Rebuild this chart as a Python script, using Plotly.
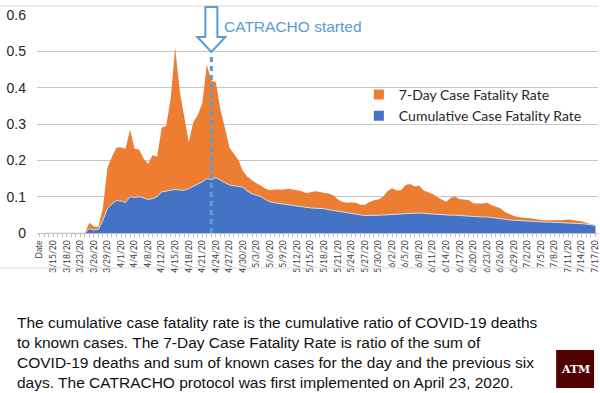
import pandas as pd
import plotly.graph_objects as go

# ---------------- data ----------------
early_dates = ["Date", "3/13/20", "3/14/20", "3/15/20", "3/16/20", "3/17/20", "3/18/20",
               "3/20/20", "3/22/20", "3/23/20", "3/24/20", "3/25/20", "3/26/20", "3/27/20",
               "3/28/20", "3/29/20", "3/30/20", "3/31/20", "4/1/20", "4/2/20", "4/3/20",
               "4/4/20", "4/6/20", "4/7/20", "4/8/20", "4/9/20", "4/10/20"]
later_dates = [f"{d.month}/{d.day}/20" for d in pd.date_range("2020-04-12", "2020-07-17")]
dates = early_dates + later_dates

seven_day_cfr = [None, 0, 0, 0, 0, 0, 0, 0, 0, 0,
                 0, 0.028, 0.018, 0.017, 0.07, 0.18, 0.21, 0.235, 0.235, 0.232,
                 0.285, 0.232, 0.23, 0.205, 0.19, 0.215, 0.21, 0.29, 0.295, 0.37,
                 0.51, 0.39, 0.32, 0.25, 0.305, 0.325, 0.357, 0.463, 0.42, 0.415,
                 0.34, 0.29, 0.235, 0.218, 0.2, 0.17, 0.155, 0.145, 0.137, 0.13,
                 0.122, 0.118, 0.12, 0.12, 0.12, 0.122, 0.12, 0.118, 0.115, 0.11,
                 0.112, 0.115, 0.113, 0.11, 0.109, 0.104, 0.092, 0.086, 0.083, 0.084,
                 0.083, 0.078, 0.078, 0.085, 0.09, 0.092, 0.1, 0.115, 0.123, 0.117,
                 0.118, 0.132, 0.135, 0.128, 0.13, 0.117, 0.112, 0.107, 0.099, 0.092,
                 0.086, 0.097, 0.1, 0.093, 0.092, 0.09, 0.082, 0.081, 0.081, 0.083,
                 0.077, 0.072, 0.068, 0.058, 0.052, 0.047, 0.044, 0.042, 0.041, 0.04,
                 0.038, 0.036, 0.035, 0.035, 0.035, 0.035, 0.036, 0.037, 0.036, 0.034,
                 0.032, 0.028, 0.024, 0.022]

cumulative_cfr = [None, 0, 0, 0, 0, 0, 0, 0, 0, 0,
                  0, 0.012, 0.008, 0.01, 0.035, 0.068, 0.08, 0.089, 0.088, 0.084,
                  0.1, 0.098, 0.1, 0.097, 0.092, 0.095, 0.1, 0.113, 0.115, 0.117,
                  0.12, 0.118, 0.118, 0.122, 0.128, 0.134, 0.141, 0.15, 0.147, 0.152,
                  0.145, 0.137, 0.132, 0.13, 0.128, 0.126, 0.115, 0.108, 0.104, 0.1,
                  0.092, 0.086, 0.083, 0.081, 0.079, 0.077, 0.076, 0.074, 0.072, 0.07,
                  0.069, 0.068, 0.068, 0.067, 0.064, 0.062, 0.059, 0.057, 0.055, 0.053,
                  0.051, 0.049, 0.048, 0.048, 0.048, 0.048, 0.049, 0.05, 0.051, 0.052,
                  0.053, 0.054, 0.054, 0.055, 0.055, 0.054, 0.053, 0.052, 0.05, 0.049,
                  0.048, 0.049, 0.049, 0.048, 0.047, 0.046, 0.044, 0.044, 0.044, 0.044,
                  0.043, 0.042, 0.04, 0.038, 0.036, 0.035, 0.034, 0.033, 0.032, 0.032,
                  0.031, 0.03, 0.03, 0.03, 0.029, 0.029, 0.029, 0.028, 0.027, 0.026,
                  0.026, 0.025, 0.023, 0.021]

y_ticks = [0, 0.1, 0.2, 0.3, 0.4, 0.5, 0.6]
y_tick_labels = ["0", "0.1", "0.2", "0.3", "0.4", "0.5", "0.6"]
x_tick_labels = [d if i % 3 == 0 else "" for i, d in enumerate(dates)]
start_date = "4/23/20"

# ---------------- layout helpers ----------------
W, H = 600, 393
PL, PR, PT, PB = 37, 600, 15, 233


def px_x(px):
    return (px - PL) / (PR - PL)


def px_y(py):
    return (PB - py) / (PB - PT)


ORANGE = "#ed7d31"
BLUE = "#4472c4"
LBLUE = "#5b9bd5"

fig = go.Figure()
fig.add_trace(go.Scatter(x=dates, y=seven_day_cfr, mode="none", fill="tozeroy",
                         fillcolor=ORANGE, showlegend=False, name="7-Day Case Fatality Rate"))
fig.add_trace(go.Scatter(x=dates, y=cumulative_cfr, mode="lines", fill="tozeroy",
                         fillcolor=BLUE, line=dict(color="#d6dcea", width=1),
                         showlegend=False, name="Cumulative Case Fatality Rate"))
# legend entries
fig.add_trace(go.Scatter(x=[None], y=[None], mode="markers", name="7-Day Case Fatality Rate",
                         marker=dict(symbol="square", size=10, color=ORANGE)))
fig.add_trace(go.Scatter(x=[None], y=[None], mode="markers", name="Cumulative Case Fatality Rate",
                         marker=dict(symbol="square", size=10, color=BLUE)))

shapes = [
    # chart frame lines
    dict(type="line", xref="paper", yref="paper", x0=px_x(0), x1=1, y0=px_y(6), y1=px_y(6),
         line=dict(color="#d9d9d9", width=1)),
    dict(type="line", xref="paper", yref="paper", x0=px_x(0), x1=1, y0=px_y(268), y1=px_y(268),
         line=dict(color="#d9d9d9", width=1)),
    # dashed start line
    dict(type="line", xref="x", yref="y", x0=start_date, x1=start_date, y0=0, y1=0.495,
         line=dict(color=LBLUE, width=3, dash="5px,4px")),
    # hollow arrow
    dict(type="path", xref="x", yref="paper", xsizemode="pixel", ysizemode="pixel",
         xanchor=start_date, yanchor=1,
         path="M -6,8 L 6,8 L 6,-22 L 14,-22 L 0,-37 L -14,-22 L -6,-22 Z",
         fillcolor="white", line=dict(color=LBLUE, width=2)),
    # logo box
    dict(type="rect", xref="paper", yref="paper", x0=px_x(558), x1=px_x(596),
         y0=px_y(388), y1=px_y(350), fillcolor="#500000", line=dict(width=0)),
]

annotations = [
    dict(text="CATRACHO started", xref="x", yref="y", x=start_date, y=0.567, xshift=11,
         xanchor="left", yanchor="middle", showarrow=False,
         font=dict(family="Liberation Sans, Arial", size=15.5, color=LBLUE)),
    dict(text="The cumulative case fatality rate is the cumulative ratio of COVID-19 deaths<br>"
              "to known cases. The 7-Day Case Fatality Rate is ratio of the sum of<br>"
              "COVID-19 deaths and sum of known cases for the day and the previous six<br>"
              "days. The CATRACHO protocol was first implemented on April 23, 2020.",
         xref="paper", yref="paper", x=px_x(15), y=px_y(312), xanchor="left", yanchor="top",
         align="left", showarrow=False,
         font=dict(family="Liberation Sans, Arial", size=15.5, color="#111111")),
    dict(text="<b>ATM</b>", xref="paper", yref="paper", x=px_x(577), y=px_y(369),
         xanchor="center", yanchor="middle", showarrow=False,
         font=dict(family="DejaVu Serif", size=11, color="white")),
]

fig.update_layout(
    width=W, height=H, autosize=False,
    margin=dict(l=PL, r=W - PR, t=PT, b=H - PB, pad=0),
    paper_bgcolor="white", plot_bgcolor="white",
    showlegend=True,
    legend=dict(x=px_x(360), y=px_y(79), xanchor="left", yanchor="top",
                bgcolor="rgba(0,0,0,0)", font=dict(family="Lato", size=14, color="#262626"),
                itemwidth=30, tracegroupgap=0, traceorder="normal"),
    xaxis=dict(type="category", categoryorder="array", categoryarray=dates,
               range=[-0.6, len(dates) - 0.4],
               tickmode="array", tickvals=dates, ticktext=x_tick_labels,
               tickangle=-90, tickfont=dict(family="Lato", size=8.5, color="#404040"),
               ticks="outside", ticklen=3, tickcolor="#bfbfbf", tickwidth=1,
               showline=True, linecolor="#bfbfbf", linewidth=1,
               showgrid=False, zeroline=False, fixedrange=True),
    yaxis=dict(range=[0, 0.6], tickmode="array", tickvals=y_ticks, ticktext=y_tick_labels,
               tickfont=dict(family="Liberation Sans, Arial", size=14, color="#262626"),
               showgrid=True, gridcolor="#c6c6c6", gridwidth=1, zeroline=False,
               showline=False, ticks="", ticklabelstandoff=10),
    shapes=shapes,
    annotations=annotations,
)

fig.write_html("out.html", config={"displayModeBar": False},
               post_script="document.body.style.margin='0';document.body.style.padding='0';")
